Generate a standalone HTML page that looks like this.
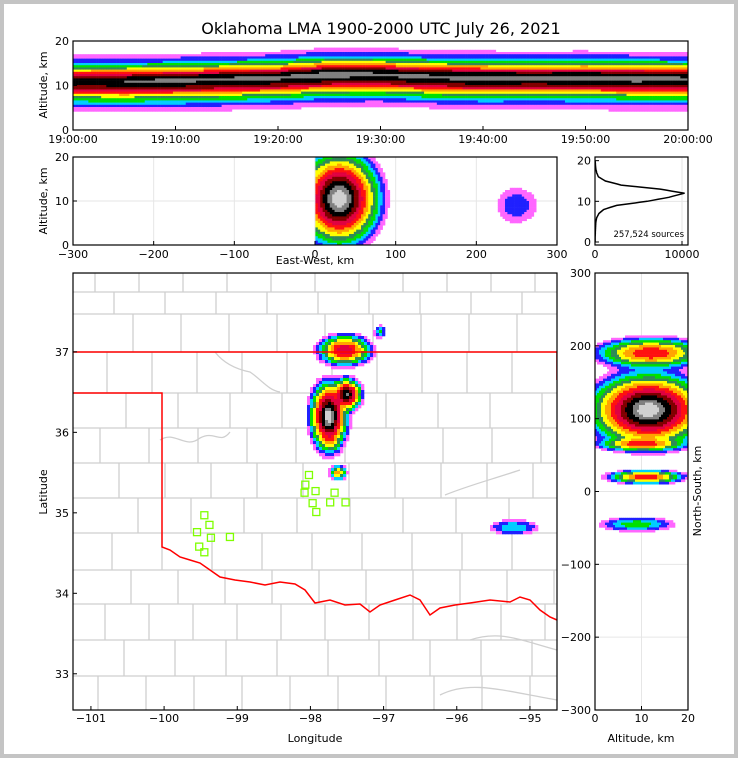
<!DOCTYPE html>
<html><head><meta charset="utf-8"><style>
html,body{margin:0;padding:0;background:#c4c4c4;}
svg{display:block;font-family:"DejaVu Sans","Liberation Sans",sans-serif;}
</style></head><body>
<svg id="fig" width="738" height="758" viewBox="0 0 738 758" xmlns="http://www.w3.org/2000/svg">
<rect x="4" y="4" width="730" height="750" fill="#fff"/>
<text x="381" y="34" font-size="16" text-anchor="middle">Oklahoma LMA 1900-2000 UTC July 26, 2021</text>
<defs>
<clipPath id="cTop"><rect x="73" y="41" width="615" height="89"/></clipPath>
<clipPath id="cEW"><rect x="73" y="157" width="484" height="88"/></clipPath>
<clipPath id="cHist"><rect x="595" y="157" width="93" height="88"/></clipPath>
<clipPath id="cMap"><rect x="73" y="273" width="484" height="437"/></clipPath>
<clipPath id="cNS"><rect x="595" y="273" width="93" height="437"/></clipPath>
</defs>
<g id="gTop" clip-path="url(#cTop)"></g>
<g id="gEWgrid"></g>
<g id="gEW" clip-path="url(#cEW)"></g>
<g id="gHistGrid"></g>
<g id="gHist" clip-path="url(#cHist)"></g>
<g id="gMap" clip-path="url(#cMap)"></g>
<g id="gNSgrid"></g>
<g id="gNS" clip-path="url(#cNS)"></g>
<g id="gAxes"></g>
<text x="684" y="237" font-size="8.5" text-anchor="end">257,524 sources</text>
<text x="315" y="264" font-size="11" text-anchor="middle">East-West, km</text>
<text x="315" y="742" font-size="11" text-anchor="middle">Longitude</text>
<text x="641" y="742" font-size="11" text-anchor="middle">Altitude, km</text>
<text transform="translate(47,85) rotate(-90)" font-size="11" text-anchor="middle">Altitude, km</text>
<text transform="translate(47,201) rotate(-90)" font-size="11" text-anchor="middle">Altitude, km</text>
<text transform="translate(47,492) rotate(-90)" font-size="11" text-anchor="middle">Latitude</text>
<text transform="translate(701,491) rotate(-90)" font-size="11" text-anchor="middle">North-South, km</text>
</svg>
<script>
// ---- data ----
const profAlts = [0,1,2,3,4,5,6,7,8,9,10,11,12,13,14,15,16,17,18,19,20];
const profCounts = [5,10,30,50,70,100,200,450,1000,2500,6000,8500,10300,7500,3000,1200,400,200,90,50,20];
const timeMinutes = [0,5,10,15,20,25,30,35,40,45,50,55,60];
const coreAlt = [11,11,11.2,11.5,11.8,12.5,12.5,12,11.8,11.8,11.8,11.6,11.5];
const corePeak = [0.75,0.8,0.85,0.85,0.85,0.9,0.85,0.85,0.9,0.85,0.9,0.9,0.85];
const ewBlobs = [
 {x:30,y:10.5,sx:20,sy:4.2,p:1.0,xmin:0},
 {x:250,y:9,sx:16,sy:2.6,p:0.025,xmin:225}
];
const nsBlobs = [
 {x:12,y:190,sx:5,sy:9,p:0.35},
 {x:11.5,y:112,sx:5,sy:20,p:1.0},
 {x:10,y:65,sx:4,sy:4,p:0.3},
 {x:11,y:20,sx:3.5,sy:4,p:0.35},
 {x:9,y:-45,sx:4,sy:5,p:0.07}
];
const mapBlobs = [
 {x:-97.53,y:37.02,sx:0.15,sy:0.08,p:0.45},
 {x:-97.05,y:37.25,sx:0.04,sy:0.04,p:0.06},
 {x:-97.75,y:36.2,sx:0.1,sy:0.17,p:1.0},
 {x:-97.5,y:36.47,sx:0.08,sy:0.08,p:0.8},
 {x:-97.71,y:35.88,sx:0.05,sy:0.05,p:0.12},
 {x:-97.62,y:35.5,sx:0.05,sy:0.04,p:0.25},
 {x:-95.22,y:34.82,sx:0.18,sy:0.05,p:0.05}
];
const ltgLon = [-99.45,-99.38,-99.55,-99.36,-99.1,-99.52,-99.45,-98.02,-98.07,-98.08,-97.93,-97.97,-97.92,-97.73,-97.67,-97.52];
const ltgLat = [34.97,34.85,34.76,34.69,34.7,34.58,34.51,35.47,35.35,35.25,35.27,35.12,35.01,35.13,35.25,35.13];
const histTicks=[0,10000];
const ewTicks=[-300,-200,-100,0,100,200,300];
const lonTicks=[-101,-100,-99,-98,-97,-96,-95];
const latTicks=[33,34,35,36,37];
const nsTicks=[300,200,100,0,-100,-200,-300];
const timeTickLabels=['19:00:00','19:10:00','19:20:00','19:30:00','19:40:00','19:50:00','20:00:00'];

// ---- helpers ----
const NS='http://www.w3.org/2000/svg';
function el(tag,attrs,parent){const e=document.createElementNS(NS,tag);for(const k in attrs)e.setAttribute(k,attrs[k]);parent.appendChild(e);return e;}
const levels=[0.008,0.016,0.03,0.05,0.08,0.12,0.18,0.26,0.36,0.48,0.62,0.78,0.9];
const cols=['#ff66ff','#2020ff','#00ccff','#00e000','#2e8b57','#ffff00','#ffa500','#ff1010','#e00040','#800000','#000000','#808080','#d0d0d0'];
function colorOf(v){let c=null;for(let i=0;i<levels.length;i++){if(v>=levels[i])c=cols[i];}return c;}
function lin(d0,d1,r0,r1){return v=>r0+(v-d0)/(d1-d0)*(r1-r0);}
function interp(xs,ys,x){if(x<=xs[0])return ys[0];for(let i=1;i<xs.length;i++){if(x<=xs[i]){const t=(x-xs[i-1])/(xs[i]-xs[i-1]);return ys[i-1]+t*(ys[i]-ys[i-1]);}}return ys[ys.length-1];}
function blobVal(blobs,x,y){let v=0;for(const b of blobs){if(b.xmin!==undefined&&x<b.xmin)continue;const dx=(x-b.x)/b.sx,dy=(y-b.y)/b.sy;v+=b.p*Math.exp(-0.5*(dx*dx+dy*dy));}return v;}
function heat(g,x0,y0,w,h,cw,ch,fx,fy,fn,name){
  for(let px=x0;px<x0+w;px+=cw){for(let py=y0;py<y0+h;py+=ch){
    const v=fn(fx(px+cw/2),fy(py+ch/2));const c=colorOf(v);if(!c)continue;
    const r=el('rect',{x:px,y:py,width:cw+0.3,height:ch+0.3,fill:c},g);
    
    
  }}
}
const maxCount=Math.max(...profCounts);

// ---- top panel: time vs altitude ----
const gTop=document.getElementById('gTop');
const tX=lin(73,688,0,60), tYinv=lin(130,41,0,20), tY=lin(0,20,130,41);
heat(gTop,73,41,615,89,2.5625,2.2,tX,tYinv,(t,a)=>{
  const c=interp(timeMinutes,coreAlt,t), p=interp(timeMinutes,corePeak,t);
  return p*interp(profAlts,profCounts,a-(c-12))/maxCount;
},'time-density-cell');

// ---- EW panel ----
const ewX=lin(-300,300,73,557), ewY=lin(0,20,245,157);
const gEWgrid=document.getElementById('gEWgrid');
ewTicks.forEach(v=>{const l=el('line',{x1:ewX(v),x2:ewX(v),y1:157,y2:245,stroke:'#e6e6e6','stroke-width':1},gEWgrid);});
[10].forEach(v=>{const l=el('line',{x1:73,x2:557,y1:ewY(v),y2:ewY(v),stroke:'#e6e6e6'},gEWgrid);});
heat(document.getElementById('gEW'),73,157,484,88,2.4,2.2,lin(73,557,-300,300),lin(245,157,0,20),(x,y)=>blobVal(ewBlobs,x,y),'ew-density-cell');

// ---- histogram ----
const hX=lin(0,10690,595,688), hY=lin(-0.74,20.9,245,157);
const gHG=document.getElementById('gHistGrid');
[10000].forEach(v=>{const l=el('line',{x1:hX(v),x2:hX(v),y1:157,y2:245,stroke:'#e6e6e6'},gHG);});
[10].forEach(v=>{const l=el('line',{x1:595,x2:688,y1:hY(v),y2:hY(v),stroke:'#e6e6e6'},gHG);});
let hp='';for(let a=0;a<=20;a+=0.25){const c=interp(profAlts,profCounts,a);hp+=(hp?'L':'M')+hX(c).toFixed(1)+','+hY(a).toFixed(1);}
const hl=el('path',{d:hp,fill:'none',stroke:'#000','stroke-width':1.5},document.getElementById('gHist'));



// ---- map ----
const gMap=document.getElementById('gMap');
const mX=lin(-101.245,-94.63,73,557), mY=lin(32.55,37.98,710,273);
const rows=[273,292,314,352,393,428,463,498,533,570,604,640,676,710];
let cm='';
for(let i=0;i<rows.length-1;i++){
  cm+='M73,'+rows[i]+'H557';
  const off=(i*19)%45;
  for(let x=73+off+22;x<557;x+=44+((i*7)%10)){cm+='M'+x+','+rows[i]+'V'+rows[i+1];}
}
const cl=el('path',{d:cm,fill:'none',stroke:'#cfcfcf','stroke-width':1.3},gMap);


const rv=el('path',{d:'M160,440 C175,430 185,450 200,438 C215,430 220,445 230,432 M215,352 C225,365 240,370 250,372 C262,380 268,390 280,392 M445,495 C470,485 490,480 520,470 M470,640 C500,630 520,640 557,650 M440,695 C470,680 500,690 557,700',fill:'none',stroke:'#cfcfcf','stroke-width':1.3},gMap);


heat(gMap,73,273,484,437,3,3,lin(73,557,-101.245,-94.63),lin(710,273,32.55,37.98),(x,y)=>blobVal(mapBlobs,x,y),'map-density-cell');
const border='M73,352H557V380 M73,393H162V547 L170,550 L180,557 L190,560 L200,563 L210,570 L220,577 L235,580 L250,582 L265,585 L280,582 L295,584 L305,590 L315,603 L330,600 L345,605 L360,604 L370,612 L380,605 L395,600 L410,595 L420,600 L430,615 L440,608 L455,605 L470,603 L490,600 L510,602 L520,597 L530,600 L540,610 L550,617 L557,620';
const sb=el('path',{d:border,fill:'none',stroke:'#ff0000','stroke-width':1.5},gMap);


ltgLon.forEach((lo,i)=>{const r=el('rect',{x:mX(lo)-3.5,y:mY(ltgLat[i])-3.5,width:7,height:7,fill:'none',stroke:'#7fff00','stroke-width':1.3},gMap);});

// ---- NS panel ----
const nX=lin(0,20,595,688), nY=lin(300,-300,273,710);
const gNG=document.getElementById('gNSgrid');
[10].forEach(v=>{const l=el('line',{x1:nX(v),x2:nX(v),y1:273,y2:710,stroke:'#e6e6e6'},gNG);});
nsTicks.forEach(v=>{const l=el('line',{x1:595,x2:688,y1:nY(v),y2:nY(v),stroke:'#e6e6e6'},gNG);});
heat(document.getElementById('gNS'),595,273,93,437,2,2.4,lin(595,688,0,20),lin(273,710,300,-300),(x,y)=>blobVal(nsBlobs,x,y),'ns-density-cell');

// ---- axes ----
const gA=document.getElementById('gAxes');
function frame(x,y,w,h,name){const r=el('rect',{x:x,y:y,width:w,height:h,fill:'none',stroke:'#000','stroke-width':1.2},gA);}
function xtick(x,y0,label,ly,name){el('line',{x1:x,x2:x,y1:y0,y2:y0-4,stroke:'#000'},gA);const t=el('text',{x:x,y:ly,'font-size':11,'text-anchor':'middle'},gA);t.textContent=label;}
function ytick(x0,y,label,name){el('line',{x1:x0,x2:x0+4,y1:y,y2:y,stroke:'#000'},gA);const t=el('text',{x:x0-4,y:y+4,'font-size':11,'text-anchor':'end'},gA);t.textContent=label;}
frame(73,41,615,89,'top-plot-frame');
frame(73,157,484,88,'ew-plot-frame');
frame(595,157,93,88,'hist-plot-frame');
frame(73,273,484,437,'map-plot-frame');
frame(595,273,93,437,'ns-plot-frame');
timeTickLabels.forEach((s,i)=>xtick(73+i*102.5,130,s,143,'time-tick-label'));
[0,10,20].forEach(v=>ytick(73,tY(v),String(v),'top-y-tick-label'));
ewTicks.forEach(v=>xtick(ewX(v),245,String(v).replace('-','−'),258,'ew-x-tick-label'));
[0,10,20].forEach(v=>ytick(73,ewY(v),String(v),'ew-y-tick-label'));
histTicks.forEach(v=>xtick(hX(v),245,String(v),258,'hist-x-tick-label'));
[0,10,20].forEach(v=>ytick(595,hY(v),String(v),'hist-y-tick-label'));
lonTicks.forEach(v=>xtick(mX(v),710,String(v).replace('-','−'),722,'lon-tick-label'));
latTicks.forEach(v=>ytick(73,mY(v),String(v),'lat-tick-label'));
[0,10,20].forEach(v=>xtick(nX(v),710,String(v),722,'ns-x-tick-label'));
nsTicks.forEach(v=>ytick(595,nY(v),String(v).replace('-','−'),'ns-y-tick-label'));
</script>
</body></html>
